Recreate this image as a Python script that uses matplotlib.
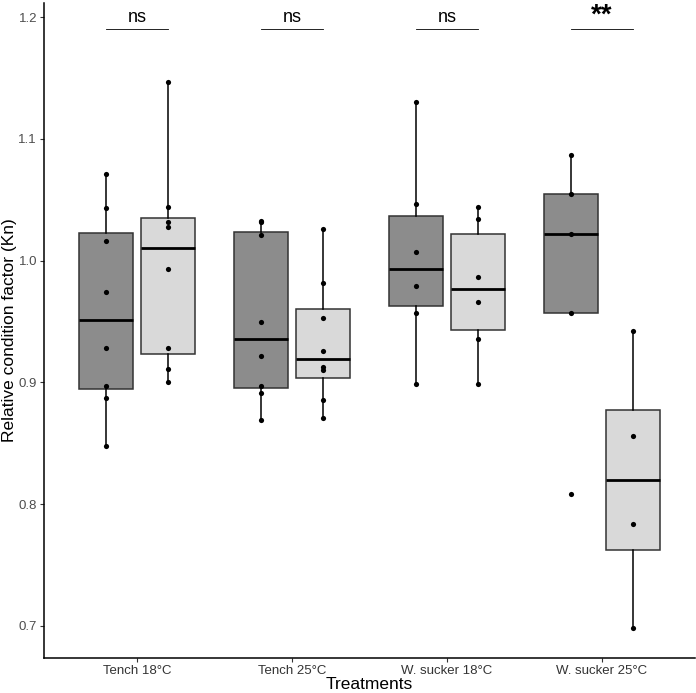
import matplotlib
matplotlib.use("Agg")
import matplotlib.pyplot as plt
import numpy as np

plt.rcParams['font.family'] = ['Liberation Sans', 'DejaVu Sans']

categories = ["Tench 18°C", "Tench 25°C", "W. sucker 18°C", "W. sucker 25°C"]
dark_values = [
    [1.071, 1.043, 1.016, 0.974, 0.928, 0.897, 0.887, 0.848],
    [1.033, 1.032, 1.021, 0.950, 0.922, 0.897, 0.891, 0.869],
    [1.130, 1.047, 1.007, 0.979, 0.957, 0.899],
    [1.087, 1.055, 1.022, 0.957, 0.808],
]
light_values = [
    [1.147, 1.044, 1.032, 1.028, 0.993, 0.928, 0.911, 0.900],
    [1.026, 0.982, 0.953, 0.926, 0.913, 0.910, 0.886, 0.871],
    [1.044, 1.034, 0.987, 0.966, 0.936, 0.899],
    [0.942, 0.856, 0.784, 0.698],
]
signif_labels = ["ns", "ns", "ns", "**"]
signif_y = 1.19
y_ticks = [0.7, 0.8, 0.9, 1.0, 1.1, 1.2]

dark_col = "#8c8c8c"
light_col = "#d9d9d9"
dodge = 0.2
box_w = 0.35

fig = plt.figure(figsize=(6.96, 6.93), dpi=100)
ax = fig.add_axes([44/696, 35/693, 651/696, 655/693])

x = np.arange(1, len(categories) + 1)
for vals, offset, col in [(dark_values, -dodge, dark_col), (light_values, dodge, light_col)]:
    pos = x + offset
    ax.boxplot(vals, positions=pos, widths=box_w, patch_artist=True, showfliers=False,
               whis=1.5, manage_ticks=False,
               boxprops=dict(facecolor=col, edgecolor="#333333", linewidth=1.1),
               medianprops=dict(color="black", linewidth=2.0),
               whiskerprops=dict(color="black", linewidth=1.1),
               capprops=dict(linewidth=0))
    for p, v in zip(pos, vals):
        ax.scatter(np.full(len(v), p), v, s=14, color="black", zorder=5, linewidths=0)

for xi, lab in zip(x, signif_labels):
    ax.plot([xi - dodge, xi + dodge], [signif_y, signif_y], color="black", linewidth=0.6)
    if lab == "**":
        ax.text(xi, signif_y + 0.001, lab, ha="center", va="bottom", fontsize=20, fontweight="bold")
    else:
        ax.text(xi, signif_y + 0.003, lab, ha="center", va="bottom", fontsize=13)

ax.set_xlim(0.4, 4.6)
ax.set_ylim(0.6737, 1.2117)
ax.set_xticks(x)
ax.set_xticklabels(categories, fontsize=9.5, color="#333333")
ax.set_yticks(y_ticks)
ax.set_yticklabels([f"{t:.1f}" for t in y_ticks], fontsize=9.5, color="#4d4d4d")
ax.tick_params(axis="both", length=3, width=0.8, color="#333333", pad=2)
ax.set_xlabel("Treatments", fontsize=12.5, labelpad=0)
ax.set_ylabel("Relative condition factor (Kn)", fontsize=12.5, labelpad=1)
for s in ["top", "right"]:
    ax.spines[s].set_visible(False)
for s in ["left", "bottom"]:
    ax.spines[s].set_linewidth(1.1)

fig.savefig("out.png", dpi=100)
